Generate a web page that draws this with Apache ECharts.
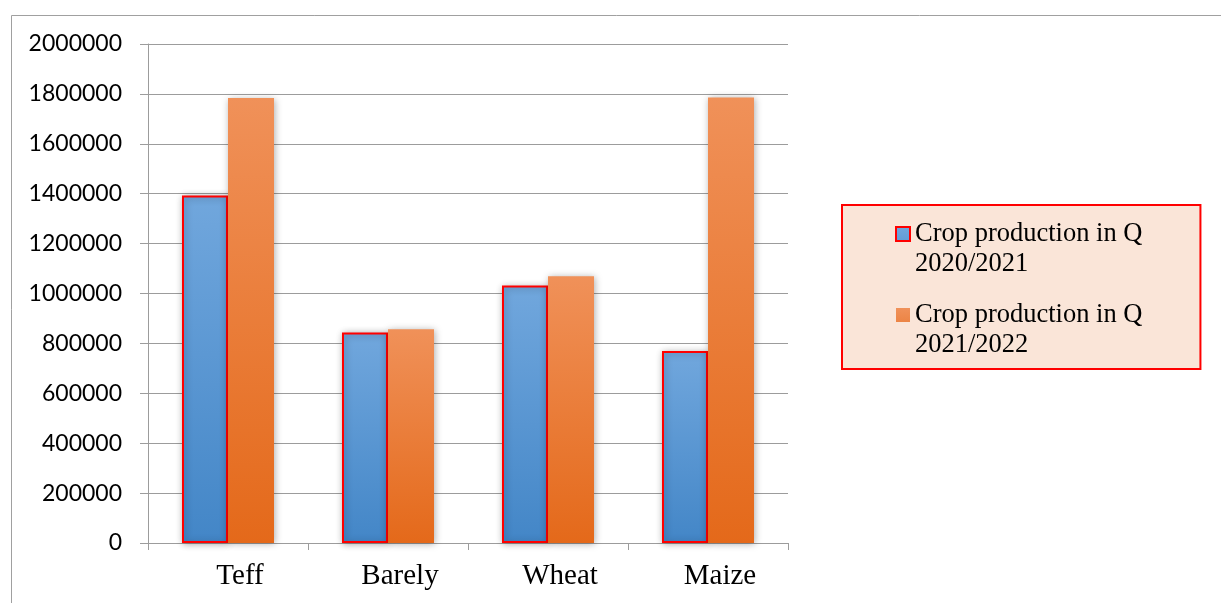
<!DOCTYPE html>
<html>
<head>
<meta charset="utf-8">
<script src="https://cdn.jsdelivr.net/npm/echarts@6/dist/echarts.min.js"></script>
<style>
  html, body { margin: 0; padding: 0; background: #ffffff; }
  #chart { width: 1221px; height: 603px; }
</style>
</head>
<body>
<div id="chart"></div>
<script>
// Crop production (quintals) by crop and season
const crops = ['Teff', 'Barely', 'Wheat', 'Maize'];
const season1Name = 'Crop production in Q\n2020/2021';
const season2Name = 'Crop production in Q\n2021/2022';
const season1Values = [1393000, 844000, 1032000, 770000];
const season2Values = [1784000, 857000, 1069000, 1786000];
const yTicks = { min: 0, max: 2000000, step: 200000 };

const chart = echarts.init(document.getElementById('chart'), null, { renderer: 'canvas' });

const gridColor = '#9c9c9c';
const shadow = { shadowBlur: 7, shadowColor: 'rgba(0,0,0,0.32)', shadowOffsetX: 1, shadowOffsetY: 1 };

function vGrad(top, bottom) {
  return new echarts.graphic.LinearGradient(0, 0, 0, 1, [
    { offset: 0, color: top },
    { offset: 1, color: bottom }
  ]);
}

// Legend icon: square sitting at the top of a taller box so it lines up with the first text line
const legendIcon = 'path://M0,0H14V14H0Z M14,44L14,44';

chart.setOption({
  animation: false,
  backgroundColor: '#ffffff',
  graphic: [{
    type: 'rect',
    shape: { x: 11.5, y: 15.5, width: 1400, height: 800 },
    style: { fill: 'none', stroke: '#a0a0a0', lineWidth: 1 },
    silent: true,
    z: -10
  }],
  grid: { left: 148, right: 433, top: 44, bottom: 60, containLabel: false },
  legend: {
    orient: 'vertical',
    left: 842,
    top: 205,
    padding: [14, 58, 9, 53],
    itemGap: 21,
    itemWidth: 14,
    itemHeight: 44,
    backgroundColor: '#fae5d8',
    borderColor: '#ff0000',
    borderWidth: 2,
    borderRadius: 0,
    textStyle: {
      fontFamily: 'Liberation Serif',
      fontSize: 26.5,
      lineHeight: 30,
      color: '#000000'
    },
    data: [
      { name: season1Name, icon: legendIcon },
      { name: season2Name, icon: legendIcon }
    ]
  },
  xAxis: {
    type: 'category',
    data: crops,
    axisLine: { show: true, lineStyle: { color: gridColor, width: 1 } },
    axisTick: { show: true, length: 7, lineStyle: { color: gridColor } },
    axisLabel: {
      margin: 19,
      padding: [0, 0, 0, 24],
      fontFamily: 'Liberation Serif',
      fontSize: 29,
      color: '#000000'
    },
    splitLine: { show: false }
  },
  yAxis: {
    type: 'value',
    min: yTicks.min,
    max: yTicks.max,
    interval: yTicks.step,
    axisLine: { show: true, lineStyle: { color: gridColor, width: 1 } },
    axisTick: { show: true, length: 8, lineStyle: { color: gridColor } },
    axisLabel: {
      margin: 26,
      padding: [4, 0, 0, 0],
      fontFamily: 'Lato',
      fontSize: 23,
      color: '#000000',
      formatter: function (v) { return String(v); }
    },
    splitLine: { show: true, lineStyle: { color: gridColor, width: 1 } }
  },
  series: [
    {
      name: season1Name,
      type: 'bar',
      data: season1Values,
      barGap: '0%',
      barCategoryGap: '42.5%',
      itemStyle: Object.assign({
        color: vGrad('#71a7dd', '#4386c7'),
        borderColor: '#ff0000',
        borderWidth: 2
      }, shadow)
    },
    {
      name: season2Name,
      type: 'bar',
      data: season2Values,
      barGap: '0%',
      barCategoryGap: '42.5%',
      itemStyle: Object.assign({
        color: vGrad('#f09159', '#e4691a')
      }, shadow)
    }
  ]
});
</script>
</body>
</html>
